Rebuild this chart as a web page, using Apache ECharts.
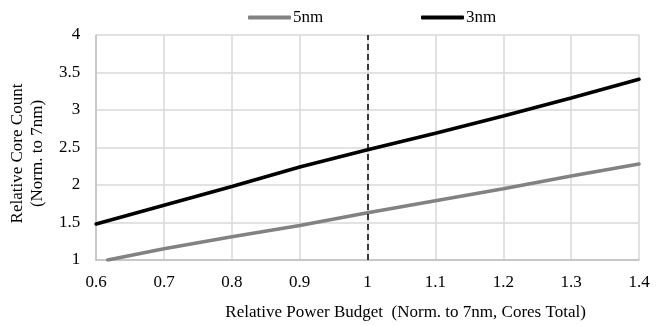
<!DOCTYPE html>
<html>
<head>
<meta charset="utf-8">
<script src="https://cdn.jsdelivr.net/npm/echarts@6/dist/echarts.min.js"></script>
<style>html,body{margin:0;padding:0;background:#fff}#c{width:665px;height:326px}</style>
</head>
<body>
<div id="c"></div>
<script>
const seriesNames = ['5nm', '3nm'];
const xValues5nm = [0.617, 0.7, 0.8, 0.9, 1.0, 1.1, 1.2, 1.3, 1.4];
const values5nm = [1.0, 1.15, 1.31, 1.46, 1.63, 1.79, 1.95, 2.12, 2.28];
const xValues3nm = [0.6, 0.7, 0.8, 0.9, 1.0, 1.1, 1.2, 1.3, 1.4];
const values3nm = [1.48, 1.73, 1.98, 2.24, 2.47, 2.69, 2.92, 3.16, 3.41];
const xTickLabels = ['0.6', '0.7', '0.8', '0.9', '1', '1.1', '1.2', '1.3', '1.4'];
const yTickLabels = ['1', '1.5', '2', '2.5', '3', '3.5', '4'];
const refLineX = 1.0;
const xAxisTitle = 'Relative Power Budget  (Norm. to 7nm, Cores Total)';
const yAxisTitle = 'Relative Core Count\n(Norm. to 7nm)';

const FONT = '"Liberation Serif", "Times New Roman", serif';
const chart = echarts.init(document.getElementById('c'), null, {renderer: 'canvas'});
const xMin = 0.6, xMax = 1.4, xStep = 0.1;
const yMin = 1, yMax = 4, yStep = 0.5;
function fmt(v) { return String(+v.toFixed(1)); }

chart.setOption({
  animation: false,
  backgroundColor: '#fff',
  textStyle: {fontFamily: FONT},
  grid: {left: 96, right: 26, top: 35, bottom: 65, containLabel: false},
  legend: [
    {data: [seriesNames[0]], left: 243, top: 4, itemWidth: 43, itemHeight: 4, itemGap: 0,
     icon: 'roundRect', textStyle: {fontFamily: FONT, fontSize: 17, color: '#000', padding: [0,0,0,-3]}},
    {data: [seriesNames[1]], left: 416, top: 4, itemWidth: 43, itemHeight: 4, itemGap: 0,
     icon: 'roundRect', textStyle: {fontFamily: FONT, fontSize: 17, color: '#000', padding: [0,0,0,-3]}}
  ],
  xAxis: {
    type: 'value', min: xMin, max: xMax, interval: xStep,
    name: xAxisTitle, nameLocation: 'middle', nameGap: 44,
    nameTextStyle: {fontFamily: FONT, fontSize: 17, color: '#000', padding: [0, 0, 0, 76]},
    axisLine: {show: true, lineStyle: {color: '#bfbfbf', width: 1.5}},
    axisTick: {show: false},
    axisLabel: {fontFamily: FONT, fontSize: 17, color: '#000', margin: 14,
      formatter: v => { const i = Math.round((v - xMin) / xStep); return xTickLabels[i] ?? fmt(v); }},
    splitLine: {show: true, lineStyle: {color: '#d9d9d9', width: 1.5}}
  },
  yAxis: {
    type: 'value', min: yMin, max: yMax, interval: yStep,
    name: yAxisTitle, nameLocation: 'middle', nameGap: 45, nameRotate: 90,
    nameTextStyle: {fontFamily: FONT, fontSize: 17, color: '#000', lineHeight: 20, align: 'center', padding: [0, 12, 0, 0]},
    axisLine: {show: true, lineStyle: {color: '#bfbfbf', width: 1.5}},
    axisTick: {show: false},
    axisLabel: {fontFamily: FONT, fontSize: 17, color: '#000', margin: 16,
      formatter: v => { const i = Math.round((v - yMin) / yStep); return yTickLabels[i] ?? fmt(v); }},
    splitLine: {show: true, lineStyle: {color: '#d9d9d9', width: 1.5}}
  },
  series: [
    {
      name: seriesNames[0], type: 'line', showSymbol: false, symbol: 'none',
      data: xValues5nm.map((x, i) => [x, values5nm[i]]),
      lineStyle: {color: '#828282', width: 3.5, cap: 'round'},
      itemStyle: {color: '#828282'},
      z: 3
    },
    {
      name: seriesNames[1], type: 'line', showSymbol: false, symbol: 'none',
      data: xValues3nm.map((x, i) => [x, values3nm[i]]),
      lineStyle: {color: '#000', width: 3.5, cap: 'round'},
      itemStyle: {color: '#000'},
      z: 4,
      markLine: {
        silent: true, symbol: 'none', label: {show: false},
        lineStyle: {color: '#000', type: [6, 4], width: 1.5},
        data: [{xAxis: refLineX}]
      }
    }
  ]
});
</script>
</body>
</html>
